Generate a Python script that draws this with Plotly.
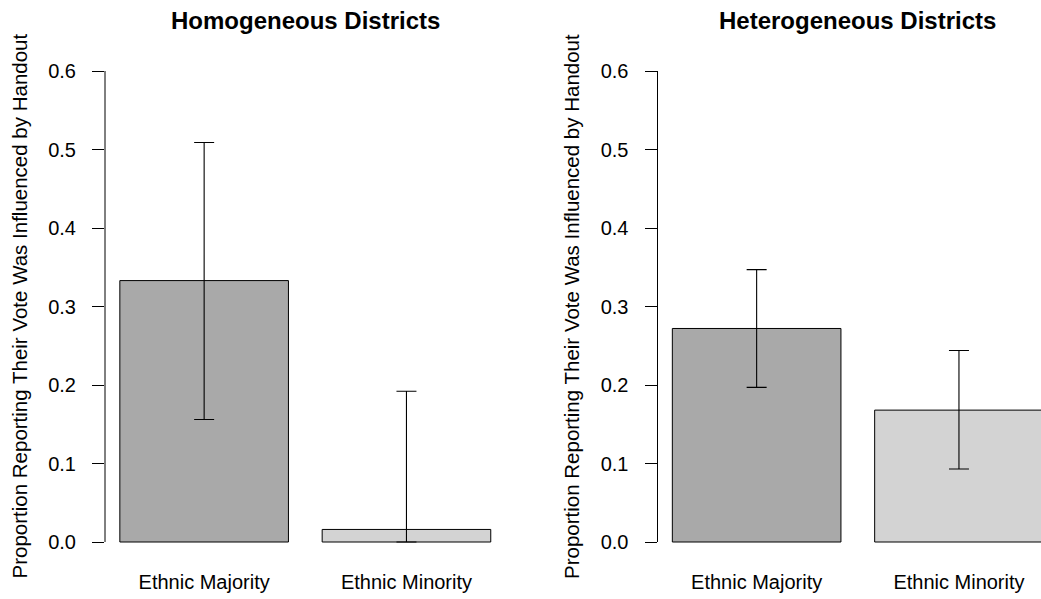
import plotly.graph_objects as go

# ---- data -------------------------------------------------------------
groups = ["Ethnic Majority", "Ethnic Minority"]
panel_titles = ["Homogeneous Districts", "Heterogeneous Districts"]

homog_prop = [0.333, 0.016]
homog_lower = [0.156, 0.0]
homog_upper = [0.509, 0.192]

heterog_prop = [0.272, 0.168]
heterog_lower = [0.197, 0.093]
heterog_upper = [0.347, 0.244]

y_ticks = [0.0, 0.1, 0.2, 0.3, 0.4, 0.5, 0.6]
y_title = "Proportion Reporting Their Vote Was Influenced by Handout"
bar_colors = ["#A9A9A9", "#D3D3D3"]

# ---- page geometry (pixels) ------------------------------------------
W, H = 1041, 599
FONT = "Liberation Sans, Arial, Helvetica, sans-serif"


def px_x(p):
    return p / W


def px_y(p):
    return 1 - p / H


# plot regions: left edge of each panel carries the y axis
panel_left = [105.0, 657.5]
unit_px = 168.6            # pixels per barplot unit
usr_lo, usr_hi = 0.112, 2.488
y_lo, y_hi = -0.024, 0.624
y0_px, y6_px = 542.0, 71.0
ypx_per = (y0_px - y6_px) / 0.6
dom_y = [px_y(y0_px - y_lo * ypx_per), px_y(y0_px - y_hi * ypx_per)]

fig = go.Figure()

panels = [
    (homog_prop, homog_lower, homog_upper),
    (heterog_prop, heterog_lower, heterog_upper),
]

for i, (vals, lo, hi) in enumerate(panels):
    xa = "x" if i == 0 else "x2"
    ya = "y" if i == 0 else "y2"
    fig.add_trace(go.Bar(
        x=groups,
        y=vals,
        xaxis=xa,
        yaxis=ya,
        marker=dict(color=bar_colors, line=dict(color="black", width=1)),
        error_y=dict(
            type="data",
            array=[h - v for h, v in zip(hi, vals)],
            arrayminus=[v - l for v, l in zip(vals, lo)],
            color="black",
            thickness=1.1,
            width=10,
        ),
        showlegend=False,
        hoverinfo="skip",
    ))

layout_axes = {}
for i in range(2):
    left = panel_left[i]
    right_full = left + (usr_hi - usr_lo) * unit_px
    right = min(right_full, W)
    r_hi = usr_lo + (right - left) / unit_px
    # convert barplot units (centres at 0.7, 1.9) to category units
    cat_range = [(usr_lo - 0.7) / 1.2, (r_hi - 0.7) / 1.2]
    sfx = "" if i == 0 else "2"
    layout_axes["xaxis" + sfx] = dict(
        domain=[px_x(left), px_x(right)],
        anchor="y" + sfx,
        range=cat_range,
        type="category",
        showline=False, showgrid=False, zeroline=False,
        ticks="",
        tickfont=dict(family=FONT, size=20, color="black"),
        ticklabelstandoff=7,
    )
    layout_axes["yaxis" + sfx] = dict(
        domain=dom_y,
        anchor="x" + sfx,
        range=[y_lo, y_hi],
        tickvals=y_ticks,
        ticktext=[f"{t:.1f}" for t in y_ticks],
        ticks="outside", ticklen=12, tickwidth=1, tickcolor="black",
        showline=False, showgrid=False, zeroline=False,
        tickfont=dict(family=FONT, size=20, color="black"),
        ticklabelstandoff=12,
    )

shapes = []
annotations = []
for i in range(2):
    left = panel_left[i]
    ya = "y" if i == 0 else "y2"
    # y axis line spanning the tick range only
    shapes.append(dict(
        type="line", xref="paper", yref=ya,
        x0=px_x(left), x1=px_x(left), y0=y_ticks[0], y1=y_ticks[-1],
        line=dict(color="black", width=1),
    ))
    centre = left + (usr_hi - usr_lo) * unit_px / 2
    annotations.append(dict(
        text="<b>" + panel_titles[i] + "</b>",
        xref="paper", yref="paper",
        x=px_x(centre), y=px_y(21),
        xanchor="center", yanchor="middle",
        showarrow=False,
        font=dict(family=FONT, size=24, color="black"),
    ))
    annotations.append(dict(
        text=y_title,
        xref="paper", yref="paper",
        x=px_x(left - 86), y=px_y((y0_px + y6_px) / 2),
        xanchor="center", yanchor="middle",
        textangle=-90,
        showarrow=False,
        font=dict(family=FONT, size=20.5, color="black"),
    ))

fig.update_layout(
    width=W, height=H,
    margin=dict(l=0, r=0, t=0, b=0),
    paper_bgcolor="white",
    plot_bgcolor="white",
    bargap=1 - 1 / 1.2,
    shapes=shapes,
    annotations=annotations,
    **layout_axes,
)

fig.write_html("out.html", config={"displayModeBar": False})
